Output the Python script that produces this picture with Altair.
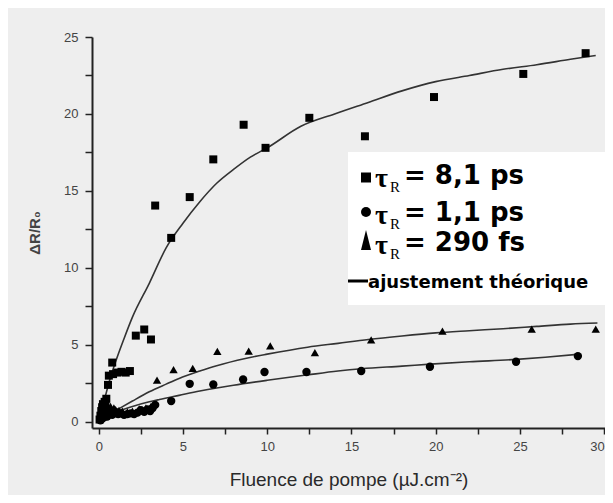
import altair as alt
import pandas as pd

# ---- data ----
sq_x = [0.05, 0.1, 0.15, 0.2, 0.25, 0.3, 0.35, 0.4, 0.45, 0.55, 0.6, 0.8, 0.85, 1.1, 1.35, 1.6, 1.85,
        2.2, 2.7, 3.1, 3.35, 4.3, 5.4, 6.8, 8.6, 9.9, 12.5, 15.8, 19.9, 25.2, 28.9]
sq_y = [0.15, 0.4, 0.7, 0.95, 1.15, 0.8, 1.3, 1.05, 1.5, 2.4, 3.0, 3.85, 3.1, 3.2, 3.25, 3.2, 3.3,
        5.6, 6.0, 5.35, 14.05, 11.95, 14.6, 17.05, 19.3, 17.8, 19.75, 18.55, 21.1, 22.6, 23.95]

ci_x = [0.1, 0.2, 0.3, 0.4, 0.5, 0.6, 0.7, 0.8, 0.9, 1.0, 1.15, 1.3, 1.5, 1.7, 1.9, 2.1, 2.3, 2.5,
        2.7, 2.9, 3.05, 3.2, 3.35, 4.3, 5.4, 6.8, 8.57, 9.84, 12.33, 15.58, 19.66, 24.77, 28.44]
ci_y = [0.1, 0.2, 0.3, 0.45, 0.35, 0.5, 0.6, 0.45, 0.55, 0.65, 0.5, 0.55, 0.45, 0.5, 0.55, 0.5, 0.6, 0.75,
        0.65, 0.8, 0.7, 0.9, 1.1, 1.35, 2.47, 2.43, 2.75, 3.24, 3.24, 3.3, 3.58, 3.9, 4.27]

tr_x = [0.1, 0.2, 0.3, 0.4, 0.5, 0.6, 0.7, 0.8, 0.9, 1.0, 1.2, 1.4, 1.7, 2.0, 2.4, 2.8, 3.1,
        3.46, 4.44, 5.58, 7.04, 8.9, 10.18, 12.83, 16.17, 20.4, 25.7, 29.5]
tr_y = [0.25, 0.5, 0.7, 0.9, 1.1, 0.85, 1.0, 0.75, 0.9, 0.8, 0.75, 0.7, 0.65, 0.7, 0.85, 0.9, 1.0,
        2.71, 3.4, 3.47, 4.58, 4.6, 4.94, 4.5, 5.32, 5.9, 6.03, 6.02]

fit_sq_x = [0.4, 0.7, 1.0, 1.5, 2, 3, 4, 5, 6, 7, 8, 9, 10, 12, 14, 16, 18, 20, 22, 24, 26, 28, 29.5]
fit_sq_y = [1.7, 2.9, 3.9, 5.4, 6.8, 9.0, 11.3, 12.9, 14.3, 15.5, 16.4, 17.2, 17.8, 19.2, 20.0, 20.75,
            21.5, 22.1, 22.5, 22.9, 23.2, 23.55, 23.8]

fit_tr_x = [1.2, 2, 3, 4, 4.77, 6, 7, 8.7, 10, 12.4, 14.2, 16, 18, 20, 22, 24, 26, 28, 29.6]
fit_tr_y = [0.85, 1.35, 1.95, 2.45, 2.82, 3.3, 3.65, 4.12, 4.4, 4.85, 5.1, 5.35, 5.58, 5.78, 5.92,
            6.05, 6.2, 6.35, 6.42]

fit_ci_x = [1.2, 2, 3, 3.6, 4.77, 6, 7, 8, 10, 12.4, 14.2, 15.6, 18, 19.7, 22, 24.8, 26.5, 28.4]
fit_ci_y = [0.72, 1.0, 1.3, 1.45, 1.72, 2.0, 2.2, 2.38, 2.7, 3.05, 3.3, 3.45, 3.62, 3.75, 3.9, 4.06,
            4.2, 4.38]

x_ticks = [0, 2.5, 5, 7.5, 10, 12.5, 15, 17.5, 20, 22.5, 25, 27.5, 30]
y_ticks = [0, 2.5, 5, 7.5, 10, 12.5, 15, 17.5, 20, 22.5, 25]

x_title = "Fluence de pompe (µJ.cm⁻²)"
y_title = "ΔR/R₀"
leg_labels = ["= 8,1 ps", "= 1,1 ps", "= 290 fs"]
fit_label = "ajustement théorique"

# ---- scales / axes ----
AX = "#222222"
LAB = "#444444"
xs = alt.Scale(domain=[-0.4, 30.05], nice=False, zero=False)
ys = alt.Scale(domain=[-0.4, 25], nice=False, zero=False)

x_axis = alt.Axis(values=x_ticks, title=x_title, grid=False,
                  labelExpr="datum.value % 5 === 0 ? datum.label : ''",
                  tickSize=6,
                  labelFont="Liberation Sans", labelFontSize=13, labelColor=LAB,
                  labelPadding=6, labelOverlap=False,
                  titleFont="Liberation Sans", titleFontSize=19, titleFontWeight="normal",
                  titleColor="#2a2a2a", titlePadding=17,
                  domainColor=AX, domainWidth=2, tickColor=AX, tickWidth=1.5)
y_axis = alt.Axis(values=y_ticks, title=y_title, grid=False,
                  labelExpr="datum.value % 5 === 0 ? datum.label : ''",
                  tickSize=7,
                  labelFont="Liberation Sans", labelFontSize=13, labelColor=LAB,
                  labelPadding=7, labelOverlap=False,
                  titleFont="Liberation Sans", titleFontSize=15, titleFontWeight="bold",
                  titleColor="#444444", titlePadding=21,
                  domainColor=AX, domainWidth=2, tickColor=AX, tickWidth=1.5)

sq = pd.DataFrame({"x": sq_x, "y": sq_y})
ci = pd.DataFrame({"x": ci_x, "y": ci_y})
tr = pd.DataFrame({"x": tr_x, "y": tr_y})
fs = pd.DataFrame({"x": fit_sq_x, "y": fit_sq_y})
ft = pd.DataFrame({"x": fit_tr_x, "y": fit_tr_y})
fc = pd.DataFrame({"x": fit_ci_x, "y": fit_ci_y})


def enc(ch):
    return ch.encode(
        x=alt.X("x:Q", scale=xs, axis=x_axis),
        y=alt.Y("y:Q", scale=ys, axis=y_axis),
    )


line_kw = dict(color="#333333", strokeWidth=1.6, interpolate="monotone")
fit1 = enc(alt.Chart(fs).mark_line(**line_kw))
fit2 = enc(alt.Chart(ft).mark_line(**line_kw))
fit3 = enc(alt.Chart(fc).mark_line(**line_kw))

p_sq = enc(alt.Chart(sq).mark_point(shape="square", filled=True, size=64, color="black", opacity=1))
p_ci = enc(alt.Chart(ci).mark_point(shape="circle", filled=True, size=70, color="black", opacity=1))
p_tr = enc(alt.Chart(tr).mark_point(shape="triangle-up", filled=True, size=70, color="black", opacity=1))

# ---- legend (annotation box) ----
one = pd.DataFrame({"a": [0]})
box = alt.Chart(one).mark_rect(color="white").encode(
    x=alt.value(256), x2=alt.value(513), y=alt.value(115), y2=alt.value(268))

TAU = "τ"
layers = [box]
sym_y = [140.5, 175, 203]
base = [147, 184, 214]
shapes = ["square", "circle", "M-0.5,1L0.5,1L0,-1Z"]
sizes = [100, 100, 400]
for i in range(3):
    layers.append(alt.Chart(one).mark_point(shape=shapes[i], filled=True, size=sizes[i],
                                            color="black", opacity=1).encode(
        x=alt.value(274), y=alt.value(sym_y[i])))
    layers.append(alt.Chart(one).mark_text(text=TAU, font="Liberation Serif", fontSize=28,
                                           fontWeight="bold", align="left", baseline="alphabetic",
                                           color="black").encode(
        x=alt.value(283), y=alt.value(base[i] + 3)))
    layers.append(alt.Chart(one).mark_text(text="R", font="Liberation Serif", fontSize=15,
                                           align="left", baseline="alphabetic", color="black").encode(
        x=alt.value(298), y=alt.value(base[i] + 8)))
    layers.append(alt.Chart(one).mark_text(text=leg_labels[i], font="DejaVu Sans", fontSize=26,
                                           fontWeight="bold", align="left", baseline="alphabetic",
                                           color="black").encode(
        x=alt.value(312), y=alt.value(base[i])))

layers.append(alt.Chart(one).mark_rule(color="black", strokeWidth=3).encode(
    x=alt.value(256), x2=alt.value(276), y=alt.value(244)))
layers.append(alt.Chart(one).mark_text(text=fit_label, font="DejaVu Sans", fontSize=18,
                                       fontWeight="bold", align="left", baseline="alphabetic",
                                       color="black").encode(
    x=alt.value(276), y=alt.value(251)))

chart = alt.layer(fit1, fit2, fit3, p_sq, p_ci, p_tr, *layers).properties(
    width=513, height=391,
    padding={"left": 84, "top": 29, "right": 0, "bottom": 67},
    autosize="none",
    background="#eeeeee",
).configure_view(stroke=None)

chart.save("out.html", embed_options={"renderer": "svg", "actions": False})
